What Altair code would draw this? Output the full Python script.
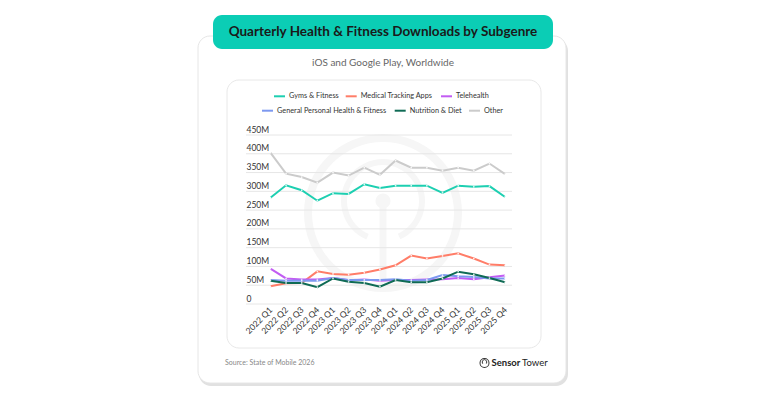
import altair as alt
import pandas as pd

# ---------------- data ----------------
quarters = ["2022 Q1", "2022 Q2", "2022 Q3", "2022 Q4",
            "2023 Q1", "2023 Q2", "2023 Q3", "2023 Q4",
            "2024 Q1", "2024 Q2", "2024 Q3", "2024 Q4",
            "2025 Q1", "2025 Q2", "2025 Q3", "2025 Q4"]

series_names = ["Gyms & Fitness", "Medical Tracking Apps", "Telehealth",
                "General Personal Health & Fitness", "Nutrition & Diet", "Other"]
series_colors = ["#1DCFB1", "#FF7D68", "#C25CF3", "#7D99F0", "#0F6B55", "#CBCBCB"]

gyms = [283, 316, 303, 275, 295, 293, 319, 309, 315, 315, 315, 296, 315, 312, 314, 285]
medical = [47, 55, 56, 87, 80, 78, 83, 92, 103, 129, 121, 128, 135, 121, 105, 103]
telehealth = [94, 68, 65, 65, 69, 63, 65, 62, 64, 64, 65, 66, 69, 66, 71, 76]
general = [64, 62, 62, 62, 69, 64, 64, 64, 66, 62, 64, 77, 74, 72, 68, 68]
nutrition = [62, 56, 56, 45, 68, 59, 56, 46, 64, 58, 58, 68, 86, 79, 69, 58]
other = [403, 347, 338, 323, 350, 342, 363, 344, 382, 363, 363, 355, 363, 355, 374, 346]

y_ticks = [0, 50, 100, 150, 200, 250, 300, 350, 400, 450]

title_text = "Quarterly Health & Fitness Downloads by Subgenre"
subtitle_text = "iOS and Google Play, Worldwide"
source_text = "Source: State of Mobile 2026"

# ---------------- build tables ----------------
all_values = [gyms, medical, telehealth, general, nutrition, other]
rows = []
for name, vals in zip(series_names, all_values):
    for q, v in zip(quarters, vals):
        rows.append({"quarter": q, "series": name, "value": v})
df = pd.DataFrame(rows)
ticks_df = pd.DataFrame({"v": y_ticks})
one = pd.DataFrame({"a": [0]})

FONT = "Lato"
W, H = 266, 169

x_scale = alt.Scale(type="point", domain=quarters, padding=1.35, align=0.78)
y_scale = alt.Scale(domain=[0, 450], nice=False, zero=True)
color_scale = alt.Scale(domain=series_names, range=series_colors)

y_axis = alt.Axis(values=y_ticks, grid=False, domain=False, ticks=False, tickSize=0,
                  labelAlign="left", labelPadding=0, labelBaseline="bottom",
                  labelOffset=-1, labelOverlap=False, labelBound=False,
                  labelFont=FONT, labelFontSize=8.5, labelColor="#333333",
                  labelExpr="datum.value == 0 ? '0' : datum.value + 'M'",
                  title=None, zindex=1)
x_axis = alt.Axis(labelAngle=-45, labelAlign="right", labelBaseline="middle",
                  labelPadding=4, domain=False, ticks=False, grid=False,
                  labelOverlap=False, labelBound=False,
                  labelFont=FONT, labelFontSize=8.5, labelColor="#333333",
                  title=None, zindex=1)


def rect(x, x2, y, y2, **kw):
    return alt.Chart(one).mark_rect(**kw).encode(
        x=alt.value(x), x2=alt.value(x2), y=alt.value(y), y2=alt.value(y2))


def text(s, x, y, **kw):
    base = dict(font=FONT, baseline="middle")
    base.update(kw)
    return alt.Chart(one).mark_text(text=s, **base).encode(x=alt.value(x), y=alt.value(y))


layers = []
# card shadow + card
layers.append(rect(-47, 322, -96, 251, fill="#e1e1e1", cornerRadius=12))
layers.append(rect(-48, 320, -99, 248, fill="white", stroke="#e6e6e6", strokeWidth=1, cornerRadius=12))
# title pill
layers.append(rect(-33, 307, -120, -86, fill="#0BCDB5", cornerRadius=9))
# inner box
layers.append(rect(-19, 295, -55, 213, fill="white", stroke="#e8e8e8", strokeWidth=1, cornerRadius=12))

# faint watermark
wm = "#f6f6f6"
layers.append(alt.Chart(one).mark_arc(radius=79, radius2=71, theta=0, theta2=6.2832, color=wm)
              .encode(x=alt.value(137), y=alt.value(78)))
layers.append(alt.Chart(one).mark_arc(radius=42, radius2=36, theta=3.55, theta2=9.0, color=wm)
              .encode(x=alt.value(137), y=alt.value(66)))
layers.append(rect(133.5, 140.5, 66, 150, fill=wm))
layers.append(alt.Chart(one).mark_circle(size=230, color=wm, opacity=1)
              .encode(x=alt.value(137), y=alt.value(66)))

# gridlines
layers.append(alt.Chart(ticks_df).mark_rule(color="#e6e6e6", strokeWidth=1).encode(
    y=alt.Y("v:Q", scale=y_scale, axis=y_axis),
    x=alt.value(0), x2=alt.value(W)))

# lines
draw_order = ["Other", "Gyms & Fitness", "Medical Tracking Apps", "Telehealth",
              "General Personal Health & Fitness", "Nutrition & Diet"]
for name in draw_order:
    base = alt.Chart(df).transform_filter(alt.datum.series == name)
    enc = dict(
        x=alt.X("quarter:O", scale=x_scale, sort=quarters, axis=x_axis),
        y=alt.Y("value:Q", scale=y_scale, axis=y_axis),
    )
    layers.append(base.mark_line(strokeWidth=2).encode(
        color=alt.Color("series:N", scale=color_scale, legend=None), **enc))
    layers.append(base.mark_circle(size=3, color="white", opacity=0.85).encode(**enc))

# titles
layers.append(text(title_text, 137, -103, align="center", fontSize=13.5, fontWeight="bold", color="#1a1a1a"))
layers.append(text(subtitle_text, 137, -72, align="center", fontSize=10, color="#666666"))

# legend
legend_slots = [(28, -38.7), (99.7, -38.7), (195, -38.7), (16, -24.3), (148.7, -24.3), (223, -24.3)]
for (lx, ly), name, col in zip(legend_slots, series_names, series_colors):
    layers.append(alt.Chart(one).mark_rule(color=col, strokeWidth=2).encode(
        x=alt.value(lx), x2=alt.value(lx + 11), y=alt.value(ly)))
    layers.append(text(name, lx + 15, ly, align="left", fontSize=7.3, color="#333333"))

# footer
layers.append(text(source_text, -21, 228, align="left", fontSize=7, color="#888888"))
layers.append(alt.Chart(one).mark_arc(radius=5, radius2=4, theta=0, theta2=6.2832, color="#333333")
              .encode(x=alt.value(238.5), y=alt.value(228)))
layers.append(alt.Chart(one).mark_arc(radius=2.6, radius2=1.8, theta=3.9, theta2=8.65, color="#333333")
              .encode(x=alt.value(238.5), y=alt.value(227)))
layers.append(text("Sensor", 245.5, 228, align="left", fontSize=9.5, fontWeight="bold", color="#222222"))
layers.append(text("Tower", 276, 228, align="left", fontSize=9.5, color="#222222"))

chart = alt.layer(*layers).properties(
    width=W, height=H,
    autosize=alt.AutoSizeParams(type="none"),
    padding={"left": 238, "top": 127, "right": 238, "bottom": 84},
    background="white",
).configure_view(stroke=None).configure_axis(labelOverlap=False)

chart.save("out.html", embed_options={"renderer": "svg", "actions": False})
